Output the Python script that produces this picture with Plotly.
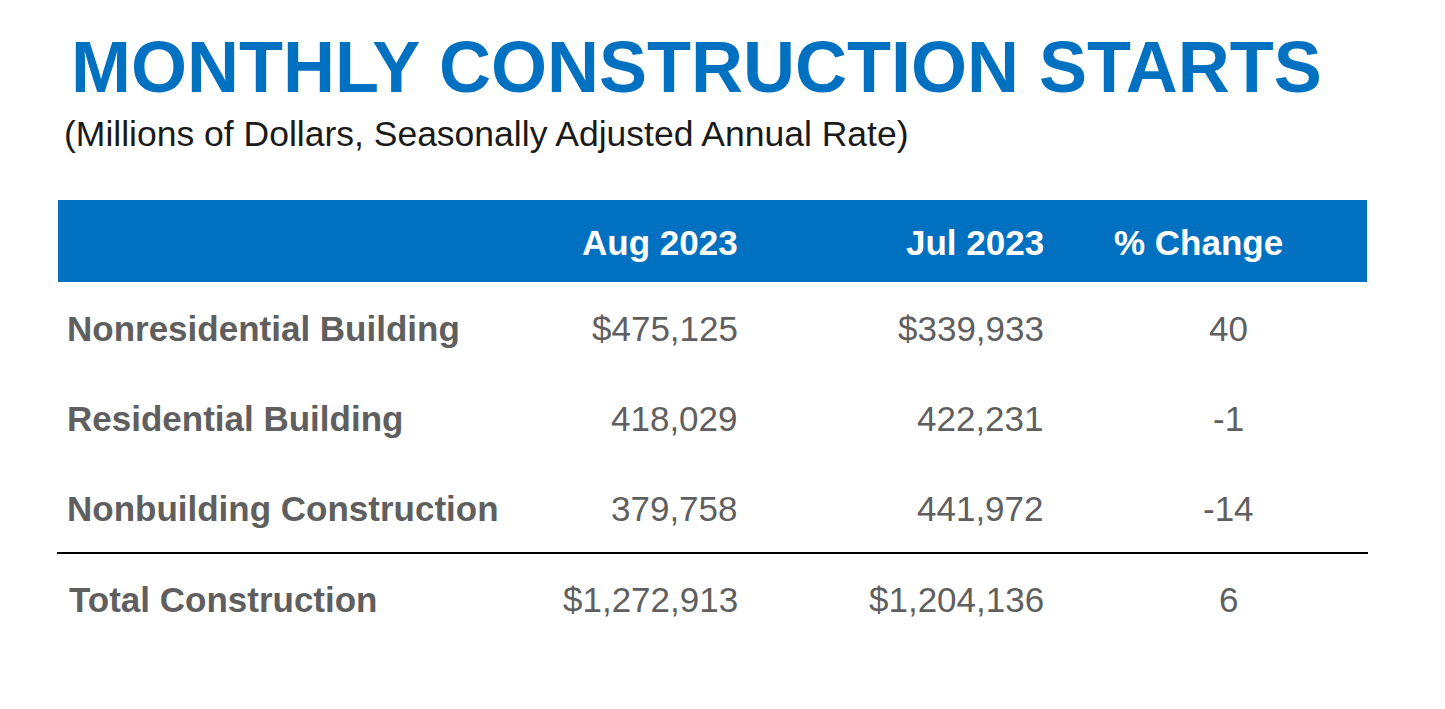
import plotly.graph_objects as go

# ---- data ----
title_text = "MONTHLY CONSTRUCTION STARTS"
subtitle_text = "(Millions of Dollars, Seasonally Adjusted Annual Rate)"
header_labels = ["", "Aug 2023", "Jul 2023", "% Change"]
categories = ["Nonresidential Building", "Residential Building",
              "Nonbuilding Construction", "Total Construction"]
aug_2023 = [475125, 418029, 379758, 1272913]
jul_2023 = [339933, 422231, 441972, 1204136]
pct_change = [40, -1, -14, 6]
dollar_rows = [True, False, False, True]

# ---- styling ----
BLUE = "#0070C0"
GRAY = "#5f5f5f"
FONT = "Liberation Sans, Arial, sans-serif"
W, H = 1445, 709
OFF = 8  # page body margin compensation

row_y = [328, 418, 508, 599]
col_label_x = 65
col_aug_x = 740
col_jul_x = 1046
col_pct_x = 1228
header_y = 242


def fmt(v, dollar):
    s = f"{v:,}"
    return ("$" + s) if dollar else s


fig = go.Figure()
fig.add_trace(go.Scatter(x=[0, W], y=[0, H], mode="markers",
                         marker=dict(opacity=0), hoverinfo="skip", showlegend=False))

ann = []
ann.append(dict(x=69, y=67, text=f"<b>{title_text}</b>", xanchor="left", yanchor="middle",
                font=dict(family=FONT, size=72, color=BLUE)))
ann.append(dict(x=62, y=134, text=subtitle_text, xanchor="left", yanchor="middle",
                font=dict(family=FONT, size=35.5, color="#1a1a1a")))

# header
hdr_pos = [(col_aug_x, "right"), (col_jul_x, "right"), (1198, "center")]
for lbl, (hx, anc) in zip(header_labels[1:], hdr_pos):
    ann.append(dict(x=hx, y=header_y, text=f"<b>{lbl}</b>", xanchor=anc, yanchor="middle",
                    font=dict(family=FONT, size=35, color="white")))

for i, cat in enumerate(categories):
    y = row_y[i]
    ann.append(dict(x=col_label_x + (2 if i == 3 else 0), y=y, text=f"<b>{cat}</b>",
                    xanchor="left", yanchor="middle",
                    font=dict(family=FONT, size=35, color=GRAY)))
    ann.append(dict(x=col_aug_x, y=y, text=fmt(aug_2023[i], dollar_rows[i]),
                    xanchor="right", yanchor="middle",
                    font=dict(family=FONT, size=35, color=GRAY)))
    ann.append(dict(x=col_jul_x, y=y, text=fmt(jul_2023[i], dollar_rows[i]),
                    xanchor="right", yanchor="middle",
                    font=dict(family=FONT, size=35, color=GRAY)))
    ann.append(dict(x=col_pct_x, y=y, text=str(pct_change[i]),
                    xanchor="center", yanchor="middle",
                    font=dict(family=FONT, size=35, color=GRAY)))

for a in ann:
    a.update(xref="x", yref="y", showarrow=False)

shapes = [
    dict(type="rect", xref="x", yref="y", x0=58, x1=1367, y0=200, y1=282,
         fillcolor=BLUE, line=dict(width=0), layer="below"),
    dict(type="line", xref="x", yref="y", x0=57, x1=1368, y0=553, y1=553,
         line=dict(color="black", width=2)),
]

fig.update_layout(
    width=W, height=H,
    margin=dict(l=0, r=0, t=0, b=0),
    paper_bgcolor="white", plot_bgcolor="white",
    xaxis=dict(range=[OFF, W + OFF], visible=False, fixedrange=True),
    yaxis=dict(range=[H + OFF, OFF], visible=False, fixedrange=True),
    annotations=ann, shapes=shapes, showlegend=False,
)

fig.write_html("out.html", config={"displayModeBar": False})
